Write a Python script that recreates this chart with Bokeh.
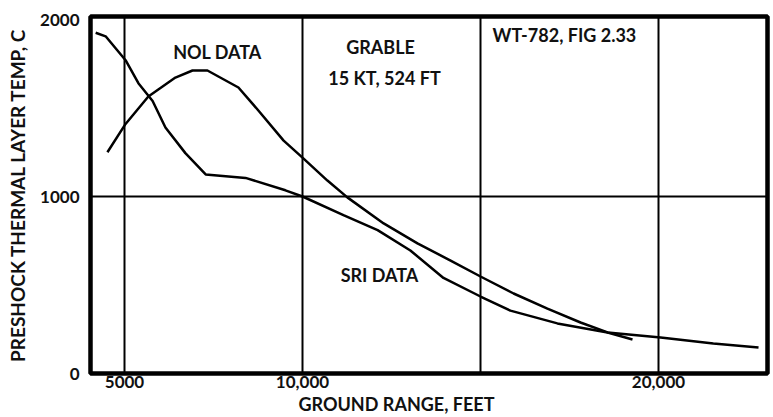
from bokeh.plotting import figure
from bokeh.models import Range1d, FixedTicker, Label, Title
from bokeh.embed import file_html
from bokeh.resources import INLINE

# ---- data ----
sri_x = [4190, 4470, 5030, 5390, 5790, 6150, 6710, 7280, 8400, 9520, 10000,
         11150, 12110, 13030, 13960, 15000, 15840, 17160, 18570, 20060, 21540, 22810]
sri_y = [1925, 1905, 1770, 1640, 1540, 1390, 1245, 1125, 1105, 1035, 1000,
         895, 810, 695, 540, 435, 355, 283, 232, 203, 170, 147]

nol_x = [4520, 5030, 5670, 6430, 6910, 7330, 8200, 8760, 9470, 10000, 10700,
         11260, 12280, 13230, 14160, 15000, 15930, 16880, 17810, 18570, 19270]
nol_y = [1250, 1410, 1565, 1672, 1712, 1712, 1616, 1486, 1316, 1220, 1090,
         995, 848, 735, 638, 548, 452, 367, 288, 232, 192]

x_tick_values = [5000, 10000, 20000]
x_tick_labels = ["5000", "10,000", "20,000"]
x_grid_values = [5000, 10000, 15000, 20000]
y_tick_values = [0, 1000, 2000]
y_tick_labels = ["0", "1000", "2000"]
y_grid_values = [1000]

FONT = "Lato"
INK = "#111111"

p = figure(width=773, height=417,
           x_range=Range1d(4045, 23062), y_range=Range1d(0, 2017),
           output_backend="svg", toolbar_location=None,
           min_border_left=90, min_border_right=6,
           min_border_top=16, min_border_bottom=44)

p.background_fill_color = "white"
p.border_fill_color = "white"
p.outline_line_color = "black"
p.outline_line_width = 4.5

# grid
p.xgrid.ticker = FixedTicker(ticks=x_grid_values)
p.ygrid.ticker = FixedTicker(ticks=y_grid_values)
for g in (p.xgrid, p.ygrid):
    g.grid_line_color = "black"
    g.grid_line_width = 2
    g.grid_line_alpha = 1.0

# axes
p.xaxis.ticker = FixedTicker(ticks=x_tick_values)
p.xaxis.major_label_overrides = dict(zip(x_tick_values, x_tick_labels))
p.yaxis.ticker = FixedTicker(ticks=y_tick_values)
p.yaxis.major_label_overrides = dict(zip(y_tick_values, y_tick_labels))
for ax in (p.xaxis, p.yaxis):
    ax.axis_line_color = None
    ax.major_tick_line_color = None
    ax.minor_tick_line_color = None
    ax.major_tick_out = 0
    ax.major_tick_in = 0
    ax.minor_tick_out = 0
    ax.major_label_text_font = FONT
    ax.major_label_text_font_style = "bold"
    ax.major_label_text_font_size = "17px"
    ax.major_label_text_color = INK
p.xaxis.major_label_standoff = 2
p.yaxis.major_label_standoff = 11

p.yaxis.axis_label = "PRESHOCK THERMAL LAYER TEMP, C"
p.yaxis.axis_label_text_font = FONT
p.yaxis.axis_label_text_font_style = "bold"
p.yaxis.axis_label_text_font_size = "19px"
p.yaxis.axis_label_text_color = INK
p.yaxis.axis_label_standoff = 8

# x-axis title, shifted left like the reference
p.add_layout(Title(text="GROUND RANGE, FEET", align="left", offset=208,
                   standoff=0, text_font=FONT, text_font_style="bold",
                   text_font_size="18px", text_color=INK), "below")

# curves
p.line(sri_x, sri_y, line_color="black", line_width=2.5)
p.line(nol_x, nol_y, line_color="black", line_width=2.5)

def lab(x, y, t, align="center", size="18px"):
    p.add_layout(Label(x=x, y=y, text=t, text_font=FONT, text_font_style="bold",
                       text_font_size=size, text_color=INK,
                       text_align=align, text_baseline="middle"))

lab(7612, 1814, "NOL DATA")
lab(12191, 1842, "GRABLE")
lab(12303, 1672, "15 KT, 524 FT")
lab(15337, 1910, "WT-782, FIG 2.33", align="left")
lab(12163, 554, "SRI DATA")

open("out.html", "w").write(file_html(p, INLINE))
